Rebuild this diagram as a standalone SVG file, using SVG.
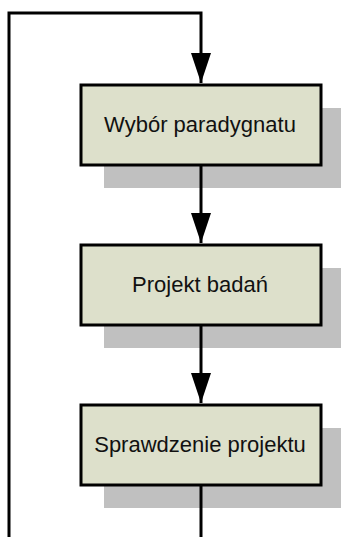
<svg xmlns="http://www.w3.org/2000/svg" width="341" height="537" viewBox="0 0 341 537">
  <style>
    .shadow { fill: #c0c0c0; }
    .box { fill: #dde0cb; stroke: #000; stroke-width: 3; }
    .label { font-family: "Liberation Sans", Arial, sans-serif; font-size: 22px; fill: #111; text-anchor: middle; }
    .wire { fill: none; stroke: #000; stroke-width: 3; }
  </style>
  <defs>
    <marker id="arrow" markerUnits="userSpaceOnUse" markerWidth="30" markerHeight="20" refX="30" refY="10" orient="auto" viewBox="0 0 30 20">
      <path d="M0,0 L30,10 L0,20 Z" fill="#000"/>
    </marker>
  </defs>

  <!-- drop shadows drawn under everything -->
  <rect class="shadow" x="104" y="108" width="240" height="80"/>
  <rect class="shadow" x="104" y="268" width="240" height="80"/>
  <rect class="shadow" x="104" y="428" width="240" height="80"/>

  <g id="connectors">
    <path class="wire" d="M9,537 L9,13 L201,13 L201,83" marker-end="url(#arrow)"/>
    <path class="wire" d="M201,165 L201,243" marker-end="url(#arrow)"/>
    <path class="wire" d="M201,325 L201,403" marker-end="url(#arrow)"/>
    <path class="wire" d="M201,485 L201,537"/>
  </g>

  <g id="wybor">
    <rect class="box" x="81" y="85" width="240" height="80"/>
    <text class="label" x="200" y="132">Wybór paradygnatu</text>
  </g>
  <g id="projekt">
    <rect class="box" x="81" y="245" width="240" height="80"/>
    <text class="label" x="200" y="292">Projekt badań</text>
  </g>
  <g id="sprawdzenie">
    <rect class="box" x="81" y="405" width="240" height="80"/>
    <text class="label" x="200" y="452">Sprawdzenie projektu</text>
  </g>
</svg>
